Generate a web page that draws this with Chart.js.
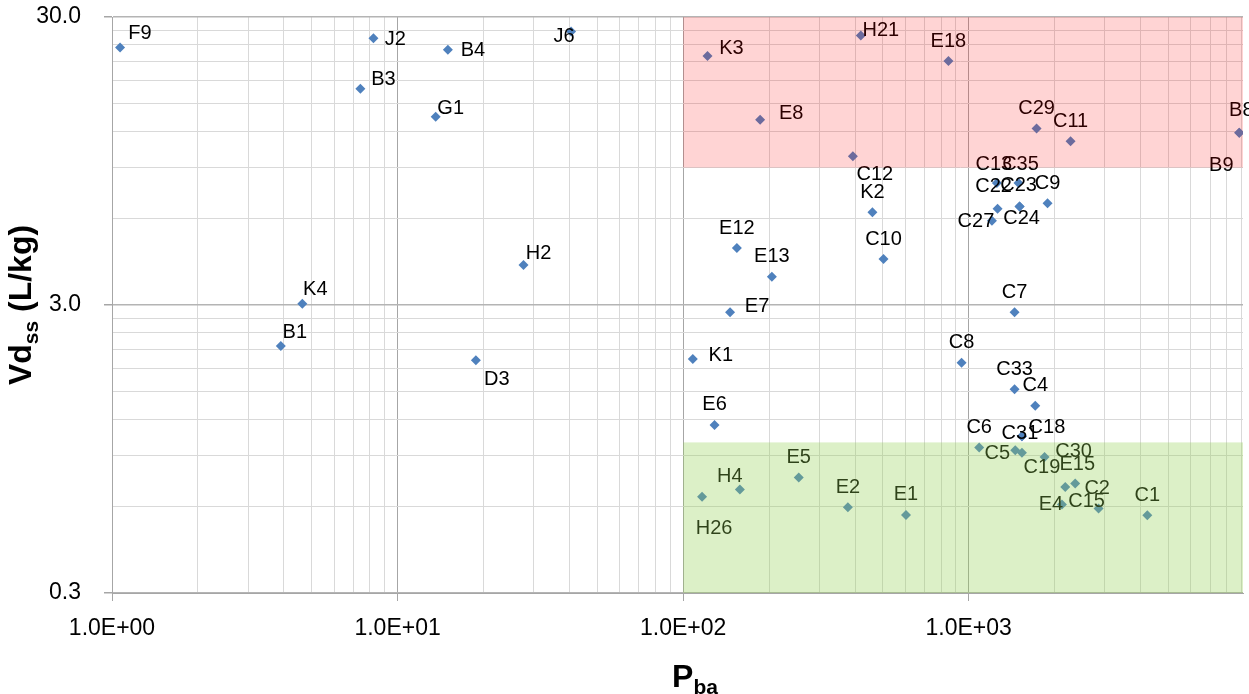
<!DOCTYPE html>
<html>
<head>
<meta charset="utf-8">
<script src="https://cdn.jsdelivr.net/npm/chart.js@4.4.1/dist/chart.umd.min.js"></script>
<style>
  html, body { margin: 0; padding: 0; background: #fff; overflow: hidden; }
  #wrap { width: 1249px; height: 694px; }
</style>
</head>
<body>
<div id="wrap"><canvas id="myChart" width="1249" height="694"></canvas></div>
<script>
// compound names, Pba (x) and Vdss in L/kg (y)
const names = ['F9', 'J2', 'B3', 'B4', 'G1', 'J6', 'K3', 'E8', 'H21', 'E18',
  'C29', 'C11', 'B8', 'B9', 'C12', 'K2', 'C13', 'C35', 'C22', 'C23',
  'C24', 'C9', 'C27', 'C10', 'C7', 'C8', 'C33', 'C4', 'C6', 'C31',
  'C18', 'C5', 'C19', 'C30', 'E15', 'C2', 'E4', 'C15', 'C1', 'E2',
  'E1', 'E5', 'H4', 'H26', 'E6', 'K1', 'E7', 'E13', 'E12', 'K4',
  'B1', 'D3', 'H2'];
const pba = [1.067, 8.23, 7.41, 15.0, 13.6, 40.5, 121.7, 186, 419, 849,
  1728, 2273, 8860, 8860, 393, 460, 1255, 1494, 1262, 1507,
  1507, 1888, 1206, 503, 1447, 944, 1447, 1710, 1088, 1536,
  1536, 1455, 1536, 1843, 2178, 2360, 2121, 2849, 4220, 377.5,
  603, 254, 158, 116.5, 128.8, 108.1, 146, 204.5, 154.2, 4.64,
  3.90, 18.8, 27.6];
const vdss = [23.5, 25.3, 16.9, 23.1, 13.5, 26.7, 21.95, 13.2, 25.9, 21.1,
  12.3, 11.1, 11.9, 11.9, 9.86, 6.3, 7.95, 7.95, 6.47, 6.59,
  6.59, 6.77, 5.88, 4.33, 2.83, 1.89, 1.53, 1.34, 0.96, 1.05,
  1.05, 0.94, 0.92, 0.89, 0.70, 0.72, 0.609, 0.59, 0.559, 0.595,
  0.56, 0.755, 0.686, 0.647, 1.15, 1.95, 2.83, 3.76, 4.73, 3.03,
  2.16, 1.93, 4.13];

// axis ranges and tick labels
const xMin = 1, xMax = 9130;
const yMin = 0.3, yMax = 30;
const xMajor = [1, 10, 100, 1000];
const xTickLabels = ['1.0E+00', '1.0E+01', '1.0E+02', '1.0E+03'];
const yMajor = [0.3, 3, 30];
const yTickLabels = ['0.3', '3.0', '30.0'];

// shaded zones (Pba from 100 up)
const redZone = { x0: 100, y0: 9, y1: 30 };
const greenZone = { x0: 100, y0: 0.3, y1: 1 };

// where each label sits relative to its point (px), default is above
const labelOffset = {
  F9: [20, -15], J2: [22, 0], B3: [23, -10], B4: [25, 0], G1: [15, -9],
  J6: [-7, 4], K3: [24, -9], E8: [31, -7], H21: [20, -6], B8: [2, -23],
  B9: [-18, 32], C12: [22, 17], C13: [-3, -20], C35: [2, -20], C22: [-4, -23],
  C23: [-1, -22], C24: [2, 11], C27: [-16, 0], C31: [-2, -4], C18: [25, -10],
  C5: [-18, 2], C19: [20, 14], C30: [29, -7], E15: [12, -24], C2: [22, 4],
  E4: [-11, -1], C15: [-12, -8], H4: [-10, -14], H26: [12, 31], K1: [28, -4],
  E7: [27, -7], K4: [13, -15], B1: [14, -15], D3: [21, 18], H2: [15, -13]
};

// gridline values: every 1..9 step of each decade
function logSteps(start, decades) {
  const out = [];
  for (let d = 0; d < decades; d++) {
    for (let k = 1; k <= 9; k++) out.push(Number((k * start * Math.pow(10, d)).toPrecision(6)));
  }
  return out;
}
const xGrid = logSteps(1, 4);
const yGrid = logSteps(0.3, 2).concat([30]);

function isMajor(list, v) {
  return list.some(m => Math.abs(m - v) / m < 1e-6);
}
function majorLabel(list, labels, v) {
  const i = list.findIndex(m => Math.abs(m - v) / m < 1e-6);
  return i >= 0 ? labels[i] : '';
}

const FONT = '"Liberation Sans", Arial, sans-serif';

const pointLabels = {
  id: 'pointLabels',
  afterDatasetsDraw(chart) {
    const ctx = chart.ctx;
    const meta = chart.getDatasetMeta(0);
    ctx.save();
    ctx.font = '20px ' + FONT;
    ctx.fillStyle = '#000';
    ctx.textAlign = 'center';
    ctx.textBaseline = 'middle';
    meta.data.forEach((pt, i) => {
      const off = labelOffset[names[i]] || [0, -21];
      ctx.fillText(names[i], pt.x + off[0], pt.y + off[1] + 1);
    });
    ctx.restore();
  }
};

const zones = {
  id: 'zones',
  afterDraw(chart) {
    const { ctx, chartArea: a, scales: { x, y } } = chart;
    ctx.save();
    ctx.beginPath();
    ctx.rect(a.left, a.top, a.right - a.left, a.bottom - a.top);
    ctx.clip();
    [[redZone, 'rgba(255, 0, 0, 0.17)'], [greenZone, 'rgba(146, 208, 80, 0.32)']].forEach(([z, c]) => {
      const left = x.getPixelForValue(z.x0);
      const top = y.getPixelForValue(z.y1);
      const bottom = y.getPixelForValue(z.y0);
      ctx.fillStyle = c;
      ctx.fillRect(left, top, a.right - left, bottom - top);
    });
    ctx.restore();
  }
};

function drawWithSub(ctx, main, sub, rest, cx, base) {
  ctx.font = 'bold 32px ' + FONT;
  const w1 = ctx.measureText(main).width;
  const w3 = ctx.measureText(rest).width;
  ctx.font = 'bold 21px ' + FONT;
  const w2 = ctx.measureText(sub).width;
  let x0 = cx - (w1 + w2 + w3) / 2;
  ctx.font = 'bold 32px ' + FONT;
  ctx.fillText(main, x0, base);
  ctx.fillText(rest, x0 + w1 + w2, base);
  ctx.font = 'bold 21px ' + FONT;
  ctx.fillText(sub, x0 + w1, base + 7);
}

const axisTitles = {
  id: 'axisTitles',
  afterDraw(chart) {
    const ctx = chart.ctx;
    ctx.save();
    ctx.fillStyle = '#000';
    ctx.textAlign = 'left';
    ctx.textBaseline = 'alphabetic';
    drawWithSub(ctx, 'P', 'ba', '', 695, 687);
    ctx.translate(31, 305);
    ctx.rotate(-Math.PI / 2);
    drawWithSub(ctx, 'Vd', 'ss', ' (L/kg)', 0, 0);
    ctx.restore();
  }
};

const ctx = document.getElementById('myChart').getContext('2d');
new Chart(ctx, {
  type: 'scatter',
  data: {
    datasets: [{
      data: pba.map((v, i) => ({ x: v, y: vdss[i] })),
      backgroundColor: '#4f81bd',
      borderWidth: 0,
      pointStyle: 'rectRot',
      pointRadius: 5,
      pointHoverRadius: 5
    }]
  },
  options: {
    responsive: false,
    animation: false,
    devicePixelRatio: 1,
    layout: { padding: { top: 17, right: 6, left: 0, bottom: 0 } },
    plugins: {
      legend: { display: false },
      tooltip: { enabled: false },
      title: { display: false }
    },
    scales: {
      x: {
        type: 'logarithmic',
        min: xMin,
        max: xMax,
        bounds: 'data',
        afterBuildTicks: s => { s.ticks = xGrid.map(v => ({ value: v })); },
        afterFit: s => { s.height = 101; s.paddingLeft = 0; s.paddingRight = 0; },
        grid: {
          color: c => isMajor(xMajor, c.tick.value) ? '#a6a6a6' : '#d9d9d9',
          tickColor: c => isMajor(xMajor, c.tick.value) ? '#a6a6a6' : 'rgba(0,0,0,0)',
          tickLength: 8
        },
        border: { color: '#a6a6a6' },
        ticks: {
          autoSkip: false,
          maxRotation: 0,
          padding: 14,
          color: '#000',
          font: { family: FONT, size: 23 },
          callback: v => majorLabel(xMajor, xTickLabels, v)
        }
      },
      y: {
        type: 'logarithmic',
        min: yMin,
        max: yMax,
        bounds: 'data',
        afterBuildTicks: s => { s.ticks = yGrid.map(v => ({ value: v })); },
        afterFit: s => { s.width = 112; s.paddingTop = 0; s.paddingBottom = 0; },
        grid: {
          color: c => isMajor(yMajor, c.tick.value) ? '#b4b4b4' : '#d9d9d9',
          lineWidth: c => isMajor(yMajor, c.tick.value) ? 1.5 : 1,
          tickColor: c => isMajor(yMajor, c.tick.value) ? '#a6a6a6' : 'rgba(0,0,0,0)',
          tickLength: 8
        },
        border: { color: '#a6a6a6' },
        ticks: {
          autoSkip: false,
          padding: 23,
          color: '#000',
          font: { family: FONT, size: 23 },
          callback: v => majorLabel(yMajor, yTickLabels, v)
        }
      }
    }
  },
  plugins: [pointLabels, zones, axisTitles]
});
</script>
</body>
</html>
